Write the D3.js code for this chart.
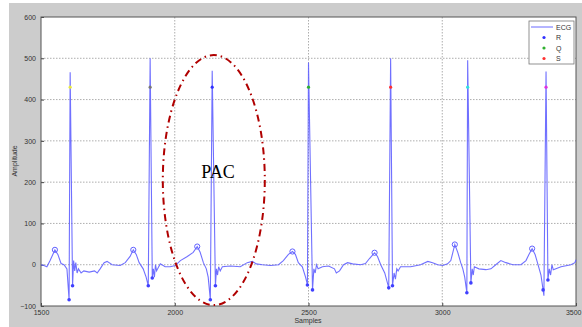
<!DOCTYPE html>
<html><head><meta charset="utf-8">
<script src="https://cdn.jsdelivr.net/npm/d3@7"></script>
<style>body{margin:0;background:#fff}svg{display:block}</style>
</head><body><svg id="c" width="582" height="327"></svg>
<script>
const ecgSamples = [1500,1511,1522,1534,1552,1563,1575,1586,1597,1605,1609,1618,1622,1626,1630,1635,1640,1650,1660,1680,1700,1710,1721,1736,1747,1766,1796,1815,1833,1845,1856,1867,1882,1893,1901,1908,1916,1920,1924,1928,1932,1940,1946,1964,1983,2002,2021,2047,2069,2084,2095,2107,2118,2125,2133,2140,2152,2156,2160,2164,2170,2178,2208,2245,2271,2290,2305,2328,2358,2388,2406,2425,2440,2451,2462,2477,2489,2496,2500,2515,2520,2525,2530,2536,2552,2575,2597,2604,2616,2631,2646,2665,2695,2713,2728,2747,2758,2770,2785,2800,2807,2814,2820,2825,2830,2835,2844,2882,2919,2946,2964,2983,3002,3020,3032,3047,3058,3069,3077,3084,3092,3095,3107,3112,3116,3120,3137,3163,3182,3200,3219,3238,3264,3294,3313,3324,3336,3347,3358,3369,3377,3380,3388,3395,3400,3405,3410,3415,3444,3481,3496,3500];
const ecgValues = [0,-2,-5,10,36,25,3,0,-10,-85,466,-51,10,-15,5,-20,-10,-20,-15,-18,-15,-20,-10,5,8,0,-2,5,20,36,25,5,-10,-30,-51,500,-32,-10,-30,0,-15,-5,2,-5,-5,-2,10,20,30,44,30,5,-10,-30,-85,470,-51,-10,-25,-5,-15,-5,-3,-5,5,8,2,0,-2,0,10,25,32,25,5,-5,-30,-49,490,-61,-10,-20,0,-10,-5,-3,-10,-20,-15,0,5,2,0,3,15,29,20,0,-20,-56,500,-51,-20,-35,-10,-15,-5,-5,0,8,5,0,-2,2,10,49,30,5,-10,-30,-68,495,-44,-10,-25,-5,-10,-12,-10,0,10,5,0,0,10,25,39,25,0,-25,-61,-75,468,-37,-10,-25,0,-12,-5,0,5,12];
const rSamples = [1609,1908,2140,2500,2807,3095,3388];
const rMarkValue = [430,430,430,430,430,430,430];
const rColors = ["#e8e840","#777777","#3030ff","#30b030","#ff3030","#30e0e0","#e030e0"];
const pSamples = [1552,1845,2084,2440,2747,3047,3336];
const pValues = [36,36,44,32,29,49,39];
const qsSamples = [1605,1618,1901,1916,2133,2152,2496,2515,2800,2814,3092,3107,3377,3395];
const qsValues = [-85,-51,-51,-32,-85,-51,-49,-61,-56,-51,-68,-44,-61,-37];
const xTicks = [1500,2000,2500,3000,3500];
const yTicks = [-100,0,100,200,300,400,500,600];
const legendNames = ["ECG","R","Q","S"];
const legendColors = ["#6b6bff","#3030ff","#30b030","#ff3030"];

const svg = d3.select("#c");
svg.append("rect").attr("x",9).attr("y",3).attr("width",573).attr("height",324).attr("fill","#cccccc");
const x = d3.scaleLinear().domain([1500,3500]).range([41,576]);
const y = d3.scaleLinear().domain([-100,600]).range([306,17]);
svg.append("rect").attr("x",41).attr("y",17).attr("width",535).attr("height",289).attr("fill","#fff");
// grid
const g = svg.append("g");
g.selectAll(".gx").data(xTicks.slice(1,-1)).enter().append("line")
 .attr("x1",d=>x(d)).attr("x2",d=>x(d)).attr("y1",17).attr("y2",306)
 .attr("stroke","#999").attr("stroke-width",0.8).attr("stroke-dasharray","1.5,1.5");
g.selectAll(".gy").data(yTicks.slice(1,-1)).enter().append("line")
 .attr("y1",d=>y(d)).attr("y2",d=>y(d)).attr("x1",41).attr("x2",576)
 .attr("stroke","#999").attr("stroke-width",0.8).attr("stroke-dasharray","1.5,1.5");
// axes
const fmt = d3.format("d");
const ax = svg.append("g").attr("transform","translate(0,306)")
 .call(d3.axisBottom(x).tickValues(xTicks).tickFormat(fmt).tickSize(-3).tickPadding(4));
const ay = svg.append("g").attr("transform","translate(41,0)")
 .call(d3.axisLeft(y).tickValues(yTicks).tickFormat(fmt).tickSize(-3).tickPadding(5));
[ax,ay].forEach(a=>{a.select(".domain").remove();a.selectAll("line").attr("stroke","#444");
 a.selectAll("text").attr("font-family","Liberation Sans, Arial, sans-serif").attr("font-size",7).attr("fill","#333");});
ax.selectAll(".tick").filter(d=>d===3500).select("text").attr("text-anchor","end").attr("x",5);
svg.append("rect").attr("x",41).attr("y",17).attr("width",535).attr("height",289).attr("fill","none").attr("stroke","#555").attr("stroke-width",1);
// labels
svg.append("text").attr("x",308).attr("y",323).attr("text-anchor","middle").attr("font-family","Liberation Sans, Arial, sans-serif").attr("font-size",7).attr("fill","#333").text("Samples");
svg.append("text").attr("transform","translate(17,161) rotate(-90)").attr("text-anchor","middle").attr("font-family","Liberation Sans, Arial, sans-serif").attr("font-size",7).attr("fill","#333").text("Amplitude");
// ecg line
const pts = ecgSamples.map((s,i)=>[s,ecgValues[i]]);
svg.append("path").datum(pts).attr("d",d3.line().x(d=>x(d[0])).y(d=>y(d[1])))
 .attr("fill","none").attr("stroke","#6060ff").attr("stroke-width",1.1).attr("stroke-opacity",0.9);
// P circles
svg.selectAll(".p").data(pSamples).enter().append("circle")
 .attr("cx",d=>x(d)).attr("cy",(d,i)=>y(pValues[i])).attr("r",2.6)
 .attr("fill","none").attr("stroke","#6060ff").attr("stroke-width",1);
// Q/S dots
svg.selectAll(".qs").data(qsSamples).enter().append("circle")
 .attr("cx",d=>x(d)).attr("cy",(d,i)=>y(qsValues[i])).attr("r",1.8).attr("fill","#4040ff");
// R marks
svg.selectAll(".r").data(rSamples).enter().append("circle")
 .attr("cx",d=>x(d)).attr("cy",(d,i)=>y(rMarkValue[i])).attr("r",1.6).attr("fill",(d,i)=>rColors[i]);
// legend
const lg = svg.append("g");
lg.append("rect").attr("x",529).attr("y",21).attr("width",45).attr("height",43).attr("fill","#fff").attr("stroke","#777").attr("stroke-width",0.8);
legendNames.forEach((n,i)=>{
 const yy = 27+i*10.5;
 if(i===0) lg.append("line").attr("x1",531).attr("x2",553).attr("y1",yy).attr("y2",yy).attr("stroke",legendColors[0]).attr("stroke-width",1);
 else lg.append("circle").attr("cx",544).attr("cy",yy).attr("r",1.6).attr("fill",legendColors[i]);
 lg.append("text").attr("x",556).attr("y",yy+2.5).attr("font-family","Liberation Sans, Arial, sans-serif").attr("font-size",7).attr("fill","#333").text(n);
});
// PAC annotation
svg.append("ellipse").attr("cx",x(2146)).attr("cy",y(205)).attr("rx",51).attr("ry",125)
 .attr("fill","none").attr("stroke","#b00000").attr("stroke-width",2).attr("stroke-dasharray","7,4,1.5,4");
svg.append("text").attr("x",218).attr("y",178).attr("text-anchor","middle").attr("font-family","Liberation Serif, Times New Roman, serif").attr("font-size",18).attr("fill","#000").text("PAC");
</script></body></html>
